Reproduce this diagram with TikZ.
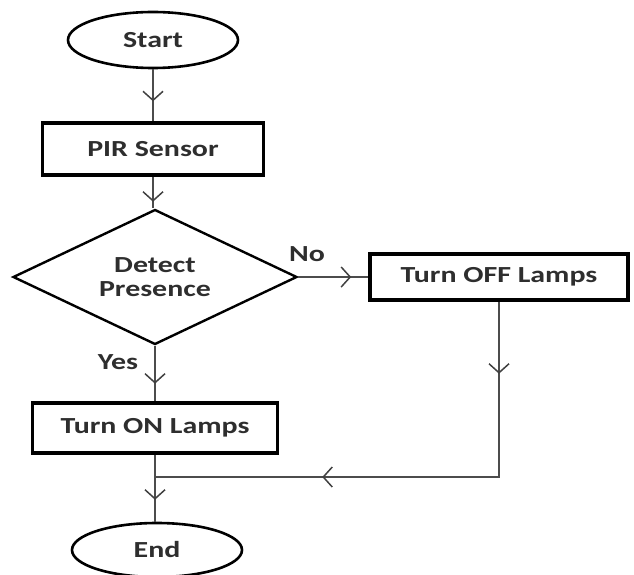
\documentclass[tikz,border=0pt]{standalone}
\usepackage{fontspec}
\setmainfont{Carlito}[FakeStretch=1.3]
\usetikzlibrary{shapes.geometric,arrows.meta,decorations.markings}
\tikzset{vtip/.tip={Straight Barb[length=9pt,width=20pt,line width=1.5pt]}}
\begin{document}
\begin{tikzpicture}[x=1pt,y=-1pt,
  txt/.style={font=\fontsize{23}{26}\selectfont\bfseries, text=black!82},
  proc/.style={txt, draw=black, line width=3.5pt, fill=white, inner sep=0pt, rectangle},
  term/.style={txt, draw=black, line width=2.6pt, fill=white, ellipse, inner sep=0pt},
  dec/.style={txt, draw=black, line width=2.4pt, fill=white, diamond, inner sep=0pt, align=center},
  conn/.style={draw=black!70, line width=1.5pt},
  midarrow/.style={postaction={decorate}, decoration={markings, mark=at position #1 with {\arrow[black!75]{vtip}}}}
]
\useasboundingbox (0,0) rectangle (634,575);
\node[term, minimum width=170pt, minimum height=56pt] (start) at (153,40) {Start};
\node[proc, minimum width=221pt, minimum height=52pt] (pir) at (153,149) {PIR Sensor};
\node[dec, minimum width=284pt, minimum height=135pt, aspect=2.1] (detect) at (155,277) {Detect\\[-2pt]Presence};
\node[proc, minimum width=258pt, minimum height=46pt] (off) at (499,277) {Turn OFF Lamps};
\node[proc, minimum width=245pt, minimum height=50pt] (on) at (155,428) {Turn ON Lamps};
\node[term, minimum width=170pt, minimum height=54pt] (end) at (157,550) {End};
\node[txt] (no) at (307,254) {No};
\node[txt] (yes) at (118,362) {Yes};
\coordinate (join) at (155,477);

\draw[conn, midarrow=32pt] (start.south) -- (start.south |- pir.north);
\draw[conn, midarrow=25pt] (pir.south) -- (pir.south |- detect.north);
\draw[conn, midarrow=53pt] (detect.east) -- (off.west);
\draw[conn, midarrow=38pt] (detect.south) -- (on.north);
\draw[conn, postaction={decorate}, decoration={markings,
    mark=at position 72pt with {\arrow[black!75]{vtip}},
    mark=at position 352pt with {\arrow[black!75]{vtip}}}]
  (off.south) |- (join);
\draw[conn, midarrow=45pt] (on.south) -- (on.south |- end.north);
\end{tikzpicture}
\end{document}
